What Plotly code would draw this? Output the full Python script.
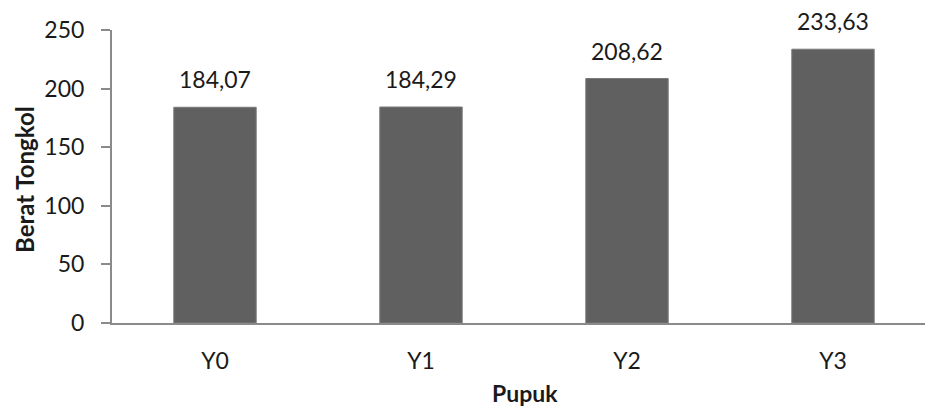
import plotly.graph_objects as go

# Data
categories = ["Y0", "Y1", "Y2", "Y3"]
berat_tongkol = [184.07, 184.29, 208.62, 233.63]
y_ticks = [0, 50, 100, 150, 200, 250]

FONT = "Lato, 'Open Sans', sans-serif"
BAR_COLOR = "#606060"
AXIS_COLOR = "#8a8a8a"
TEXT_COLOR = "#1a1a1a"

W, H = 925, 410
left, top, bottom = 112, 30, 87
plot_w = W - left
plot_h = H - top - bottom
cat_w = 206  # pixel width of one category slot


def px_x(x):
    return (x - left) / plot_w


def px_y(y):
    return (H - bottom - y) / plot_h


fig = go.Figure()
fig.add_trace(go.Bar(
    x=list(range(len(categories))),
    y=berat_tongkol,
    width=0.4,
    marker=dict(color=BAR_COLOR, line=dict(color="#7a7a7a", width=1)),
    showlegend=False,
    hoverinfo="skip",
))

# Value labels above each bar (decimal comma)
for i, v in enumerate(berat_tongkol):
    fig.add_annotation(
        x=i, y=v, xref="x", yref="y",
        text=f"{v:.2f}".replace(".", ","),
        showarrow=False, yanchor="bottom", yshift=12,
        font=dict(family=FONT, size=23, color=TEXT_COLOR),
    )

# Axis titles
fig.add_annotation(
    x=px_x(24), y=px_y(180), xref="paper", yref="paper",
    xanchor="center", yanchor="middle",
    text="<b>Berat Tongkol</b>", textangle=-90, showarrow=False,
    font=dict(family=FONT, size=24, color=TEXT_COLOR),
)
fig.add_annotation(
    x=px_x(525), y=px_y(409), xref="paper", yref="paper",
    xanchor="center", yanchor="bottom",
    text="<b>Pupuk</b>", showarrow=False,
    font=dict(family=FONT, size=23, color=TEXT_COLOR),
)

x_right = -0.5 + plot_w / cat_w

fig.update_layout(
    width=W, height=H,
    margin=dict(l=left, r=0, t=top, b=bottom, pad=0),
    plot_bgcolor="white", paper_bgcolor="white",
    font=dict(family=FONT, size=23, color=TEXT_COLOR),
    xaxis=dict(
        range=[-0.5, x_right],
        tickmode="array", tickvals=list(range(len(categories))), ticktext=categories,
        showgrid=False, zeroline=False,
        showline=True, linecolor=AXIS_COLOR, linewidth=2,
        ticks="", ticklabelstandoff=16,
        tickfont=dict(family=FONT, size=23, color=TEXT_COLOR),
    ),
    yaxis=dict(
        range=[0, 250],
        tickmode="array", tickvals=y_ticks,
        showgrid=False, zeroline=False,
        showline=True, linecolor=AXIS_COLOR, linewidth=2,
        ticks="outside", ticklen=9, tickcolor=AXIS_COLOR, tickwidth=2,
        ticklabelstandoff=12,
        tickfont=dict(family=FONT, size=23, color=TEXT_COLOR),
    ),
)

fig.write_html("out.html")
